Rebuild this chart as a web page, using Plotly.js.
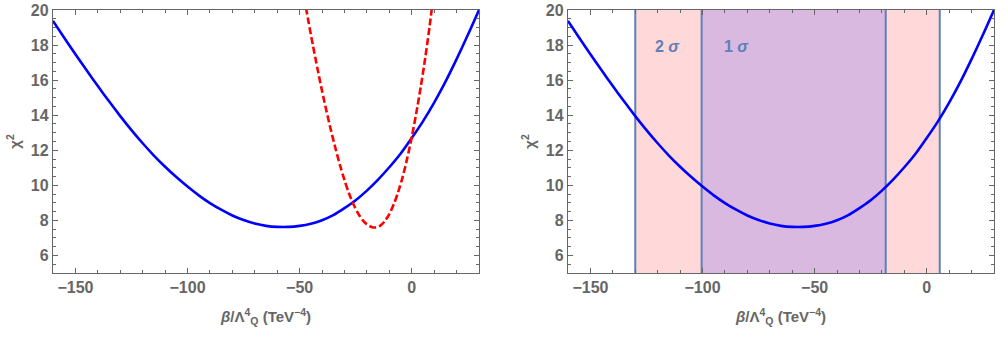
<!DOCTYPE html>
<html>
<head>
<meta charset="utf-8">
<script src="https://cdn.plot.ly/plotly-3.0.1.min.js"></script>
<style>html,body{margin:0;padding:0;background:#fff;}#chart{width:1008px;height:338px;}</style>
</head>
<body>
<div id="chart"></div>
<script>
// Blue chi^2 curve (both panels)
const blueX = [-160,-155,-150,-145,-140,-135,-130,-125,-120,-115,-110,-105,-100,-95,-90,-85,-80,-75,-70,-65,-60,-55,-50,-45,-40,-35,-30,-25,-20,-15,-10,-5,0,5,10,15,20,25,30];
const blueY = [19.38,18.42,17.48,16.56,15.66,14.79,13.95,13.15,12.4,11.7,11.06,10.47,9.93,9.43,8.99,8.61,8.28,8.02,7.82,7.69,7.63,7.63,7.69,7.81,8.01,8.3,8.7,9.15,9.7,10.33,11.03,11.8,12.7,13.65,14.72,15.9,17.2,18.57,20.0];
// Red dashed chi^2 curve (left panel)
const redX = [-48,-46,-44,-42,-40,-38,-36,-34,-32,-30,-28,-26,-24,-22,-20,-18,-16,-14,-12,-10,-8,-6,-4,-2,0,2,4,6,8,10];
const redY = [20.7,19.3,17.93,16.63,15.38,14.22,13.12,12.1,11.15,10.3,9.55,8.92,8.42,8.03,7.77,7.63,7.6,7.7,7.96,8.36,8.92,9.64,10.5,11.55,12.75,14.1,15.6,17.25,19.1,21.2];
// Confidence intervals (right panel)
const sigma2 = [-130, 5.8];
const sigma1 = [-100.4, -18.3];
const sigmaLabels = ["2 <i>σ</i>", "1 <i>σ</i>"];
const sigmaLabelX = [-115.6, -84.8];
const sigmaLabelY = 17.9;
const xRange = [-160, 30];
const yRange = [5, 20];
const xTitle = "<i>β</i>/Λ<sup>4</sup><sub>Q</sub> (TeV<sup>−4</sup>)";
const yTitle = "χ<sup>2</sup>";

const grey = '#666666';
const lineBlue = '#5d80b6';
const font = {family: 'Liberation Sans, Arial, sans-serif', size: 16, color: grey, weight: 'bold'};
const titleFont = {family: 'Liberation Sans, Arial, sans-serif', size: 15, color: grey, weight: 'bold'};

function xaxisStyle(domain, anchor) {
  return {
    domain: domain, anchor: anchor, range: xRange, autorange: false,
    showline: true, mirror: 'allticks', linecolor: grey, linewidth: 1.2,
    ticks: 'inside', ticklen: 5, tickcolor: grey, tickwidth: 1,
    tick0: 0, dtick: 50, showgrid: false, zeroline: false,
    minor: {ticks: 'inside', ticklen: 3, dtick: 10, tickcolor: grey, showgrid: false},
    tickfont: font, automargin: false,
    title: {text: xTitle, font: titleFont, standoff: 16}
  };
}
function yaxisStyle(anchor) {
  return {
    domain: [0, 1], anchor: anchor, range: yRange, autorange: false,
    showline: true, mirror: 'allticks', linecolor: grey, linewidth: 1.2,
    ticks: 'inside', ticklen: 5, tickcolor: grey, tickwidth: 1,
    tick0: 0, dtick: 2, showgrid: false, zeroline: false,
    minor: {ticks: 'inside', ticklen: 3, dtick: 0.5, tickcolor: grey, showgrid: false},
    tickfont: font, automargin: false,
    title: {text: yTitle, font: titleFont, standoff: 6}
  };
}

const traces = [
  {x: blueX, y: blueY, xaxis: 'x', yaxis: 'y', mode: 'lines', line: {color: '#0000ff', width: 2.6, shape: 'spline', smoothing: 0.8}, hoverinfo: 'skip'},
  {x: redX, y: redY, xaxis: 'x', yaxis: 'y', mode: 'lines', line: {color: '#ff0000', width: 2.6, dash: '7px,3px', shape: 'spline', smoothing: 0.8}, hoverinfo: 'skip'},
  {x: blueX, y: blueY, xaxis: 'x2', yaxis: 'y2', mode: 'lines', line: {color: '#0000ff', width: 2.6, shape: 'spline', smoothing: 0.8}, hoverinfo: 'skip'}
];

const shapes = [
  {type: 'rect', xref: 'x2', yref: 'y2', x0: sigma2[0], x1: sigma2[1], y0: yRange[0], y1: yRange[1], fillcolor: 'rgb(255,217,217)', line: {width: 0}, layer: 'below'},
  {type: 'rect', xref: 'x2', yref: 'y2', x0: sigma1[0], x1: sigma1[1], y0: yRange[0], y1: yRange[1], fillcolor: 'rgb(218,185,224)', line: {width: 0}, layer: 'below'}
];
[sigma2[0], sigma1[0], sigma1[1], sigma2[1]].forEach(v => {
  shapes.push({type: 'line', xref: 'x2', yref: 'y2', x0: v, x1: v, y0: yRange[0], y1: yRange[1], line: {color: lineBlue, width: 2}, layer: 'below'});
});

const annotations = sigmaLabels.map((t, i) => ({
  xref: 'x2', yref: 'y2', x: sigmaLabelX[i], y: sigmaLabelY, text: '<b>' + t + '</b>',
  showarrow: false, font: {family: 'Liberation Sans, Arial, sans-serif', size: 16, color: lineBlue}
}));

const L = 53, R = 14, T = 10, B = 65;
const W = 1008 - L - R;
const layout = {
  width: 1008, height: 338,
  margin: {l: L, r: R, t: T, b: B, pad: 0},
  paper_bgcolor: '#ffffff', plot_bgcolor: 'rgba(0,0,0,0)',
  showlegend: false,
  xaxis: xaxisStyle([0, (479 - L) / W], 'y'),
  yaxis: yaxisStyle('x'),
  xaxis2: xaxisStyle([(568 - L) / W, 1], 'y2'),
  yaxis2: yaxisStyle('x2'),
  shapes: shapes,
  annotations: annotations
};

Plotly.newPlot('chart', traces, layout, {staticPlot: true, displayModeBar: false});
</script>
</body>
</html>
